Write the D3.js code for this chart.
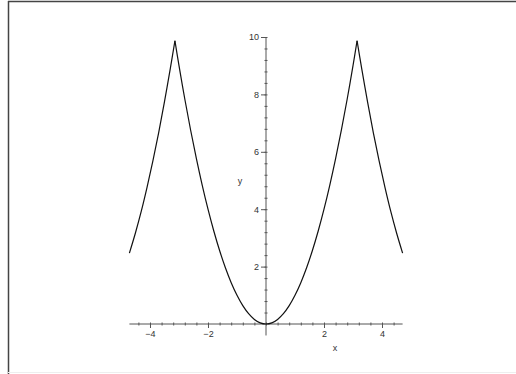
<!DOCTYPE html>
<html>
<head>
<meta charset="utf-8">
<script src="https://cdn.jsdelivr.net/npm/d3@7"></script>
<style>
  body { margin: 0; background: #fff; }
  svg { display: block; }
  .tick text { font-family: "Liberation Sans", Arial, sans-serif; }
</style>
</head>
<body>
<svg id="chart" width="516" height="374"></svg>
<script>
// values
const xs = [-4.71, -4.5, -4.3, -4.1, -3.9, -3.7, -3.5, -3.3, -3.14,
            -3.0, -2.8, -2.6, -2.4, -2.2, -2.0, -1.8, -1.6, -1.4, -1.2, -1.0,
            -0.8, -0.6, -0.4, -0.2, 0,
            0.2, 0.4, 0.6, 0.8, 1.0, 1.2, 1.4, 1.6, 1.8, 2.0, 2.2, 2.4, 2.6, 2.8, 3.0,
            3.14, 3.3, 3.5, 3.7, 3.9, 4.1, 4.3, 4.5, 4.71];
const ys = [2.47, 3.18, 3.93, 4.77, 5.68, 6.67, 7.75, 8.90, 9.87,
            9.0, 7.84, 6.76, 5.76, 4.84, 4.0, 3.24, 2.56, 1.96, 1.44, 1.0,
            0.64, 0.36, 0.16, 0.04, 0,
            0.04, 0.16, 0.36, 0.64, 1.0, 1.44, 1.96, 2.56, 3.24, 4.0, 4.84, 5.76, 6.76, 7.84, 9.0,
            9.87, 8.90, 7.75, 6.67, 5.68, 4.77, 3.93, 3.18, 2.47];
const xMajor = [-4, -2, 2, 4];
const yMajor = [2, 4, 6, 8, 10];
const xMinor = d3.range(-4.4, 4.5, 0.4);
const yMinor = d3.range(0.4, 10.01, 0.4);

const svg = d3.select("#chart");

// frame
svg.append("line").attr("x1", 8).attr("y1", 1.5).attr("x2", 516).attr("y2", 1.5)
  .attr("stroke", "#444").attr("stroke-width", 1.5);
svg.append("line").attr("x1", 8.5).attr("y1", 1).attr("x2", 8.5).attr("y2", 374)
  .attr("stroke", "#444").attr("stroke-width", 1.5);
svg.append("line").attr("x1", 8).attr("y1", 372.5).attr("x2", 516).attr("y2", 372.5)
  .attr("stroke", "#eee").attr("stroke-width", 1);

const x = d3.scaleLinear().domain([-4.71, 4.71]).range([129.4, 402.6]);
const y = d3.scaleLinear().domain([0, 10]).range([324, 37]);

const axisColor = "#555";

// x axis
svg.append("line")
  .attr("x1", x(-4.71)).attr("x2", x(4.71))
  .attr("y1", y(0)).attr("y2", y(0))
  .attr("stroke", axisColor).attr("stroke-width", 1);

svg.append("g")
  .attr("transform", `translate(0,${y(0) - 1.5})`)
  .call(d3.axisBottom(x).tickValues(xMinor).tickSize(3).tickFormat(""))
  .call(g => g.select(".domain").remove())
  .call(g => g.selectAll("line").attr("stroke", axisColor));

svg.append("g")
  .attr("transform", `translate(0,${y(0)})`)
  .call(d3.axisBottom(x).tickValues(xMajor).tickSize(4).tickPadding(3).tickFormat(d => d < 0 ? "\u2212" + (-d) : d))
  .call(g => g.select(".domain").remove())
  .call(g => g.selectAll("line").attr("stroke", axisColor))
  .call(g => g.selectAll("text").attr("fill", "#333").style("font-size", "9px"));

// y axis
svg.append("line")
  .attr("x1", x(0)).attr("x2", x(0))
  .attr("y1", y(-0.4)).attr("y2", y(10))
  .attr("stroke", axisColor).attr("stroke-width", 1);

svg.append("g")
  .attr("transform", `translate(${x(0) + 1.5},0)`)
  .call(d3.axisLeft(y).tickValues(yMinor).tickSize(3).tickFormat(""))
  .call(g => g.select(".domain").remove())
  .call(g => g.selectAll("line").attr("stroke", axisColor));

svg.append("g")
  .attr("transform", `translate(${x(0)},0)`)
  .call(d3.axisLeft(y).tickValues(yMajor).tickSize(5).tickPadding(2))
  .call(g => g.select(".domain").remove())
  .call(g => g.selectAll("line").attr("stroke", axisColor))
  .call(g => g.selectAll("text").attr("fill", "#333").style("font-size", "9px"));

// axis titles
svg.append("text")
  .attr("x", 240).attr("y", 184)
  .attr("text-anchor", "middle")
  .style("font-family", "Liberation Sans, Arial, sans-serif")
  .style("font-size", "9px").attr("fill", "#333")
  .text("y");

svg.append("text")
  .attr("x", 335).attr("y", 351)
  .attr("text-anchor", "middle")
  .style("font-family", "Liberation Sans, Arial, sans-serif")
  .style("font-size", "9px").attr("fill", "#333")
  .text("x");

// curve
const pts = xs.map((d, i) => [d, ys[i]]);
const line = d3.line()
  .x(d => x(d[0]))
  .y(d => y(d[1]))
  .curve(d3.curveCatmullRom.alpha(0.5));

// split at the peaks so they stay sharp
const peaks = [8, 40];
const segs = [pts.slice(0, peaks[0] + 1), pts.slice(peaks[0], peaks[1] + 1), pts.slice(peaks[1])];
svg.selectAll(".curve")
  .data(segs)
  .enter()
  .append("path")
  .attr("class", "curve")
  .attr("d", line)
  .attr("fill", "none")
  .attr("stroke", "#111")
  .attr("stroke-width", 1.2);
</script>
</body>
</html>
